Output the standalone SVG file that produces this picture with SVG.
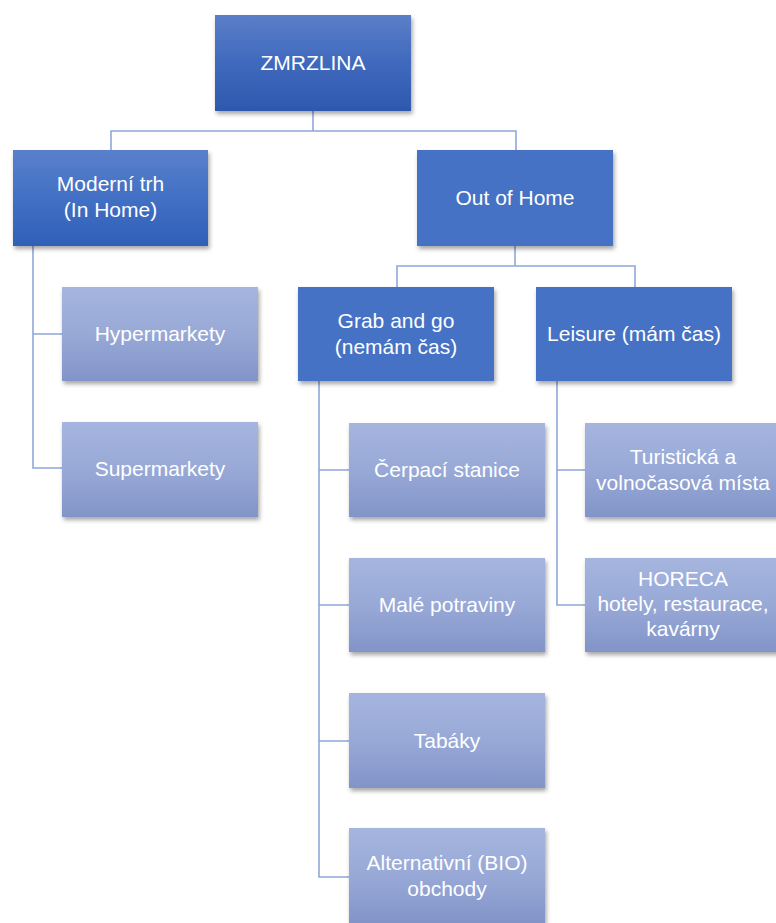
<svg xmlns="http://www.w3.org/2000/svg" width="776" height="923" viewBox="0 0 776 923">
<defs>
<linearGradient id="gDark" x1="0" y1="0" x2="0" y2="1">
<stop offset="0" stop-color="#5b7fc8"/>
<stop offset="0.5" stop-color="#3f69bd"/>
<stop offset="1" stop-color="#2e58ad"/>
</linearGradient>
<linearGradient id="gMid" x1="0" y1="0" x2="0" y2="1">
<stop offset="0" stop-color="#5a80cc"/>
<stop offset="0.5" stop-color="#4270c4"/>
<stop offset="1" stop-color="#3060b8"/>
</linearGradient>
<linearGradient id="gLight" x1="0" y1="0" x2="0" y2="1">
<stop offset="0" stop-color="#a5b5de"/>
<stop offset="0.5" stop-color="#98a9d7"/>
<stop offset="1" stop-color="#8294c8"/>
</linearGradient>
<filter id="sh" x="-10%" y="-10%" width="125%" height="130%">
<feDropShadow dx="1.5" dy="3" stdDeviation="2" flood-color="#000" flood-opacity="0.35"/>
</filter>
</defs>
<style>
.dark{fill:url(#gDark);filter:url(#sh)}
.mid{fill:url(#gMid);filter:url(#sh)}
.flat{fill:#4472c4;filter:url(#sh)}
.light{fill:url(#gLight);filter:url(#sh)}
text{font-family:"Liberation Sans",Arial,sans-serif;font-size:21px;fill:#ffffff;text-anchor:middle}
.con{fill:none;stroke:#8fa7da;stroke-width:1.6}
</style>
<rect width="776" height="923" fill="#ffffff"/>
<g id="connectors">
<path class="con" d="M313,111 V131 M111,150 V131 H516 V150"/>
<path class="con" d="M33,246 V468 H62 M33,334 H62"/>
<path class="con" d="M515,246 V266 M397,287 V266 H635 V287"/>
<path class="con" d="M319,381 V877 H349 M319,470 H349 M319,605 H349 M319,741 H349"/>
<path class="con" d="M557,381 V605 H585 M557,470 H585"/>
</g>
<g id="zmrzlina"><rect class="dark" x="215" y="15" width="196" height="96"/><text x="313" y="70">ZMRZLINA</text></g>
<g id="moderni"><rect class="mid" x="13" y="150" width="195" height="96"/><text x="110.5" y="191">Moderní trh</text><text x="110.5" y="217">(In Home)</text></g>
<g id="outofhome"><rect class="flat" x="417" y="150" width="196" height="96"/><text x="515" y="205">Out of Home</text></g>
<g id="hyper"><rect class="light" x="62" y="287" width="196" height="94"/><text x="160" y="341">Hypermarkety</text></g>
<g id="super"><rect class="light" x="62" y="422" width="196" height="95"/><text x="160" y="476">Supermarkety</text></g>
<g id="grab"><rect class="flat" x="298" y="287" width="196" height="94"/><text x="396" y="328">Grab and go</text><text x="396" y="354">(nemám čas)</text></g>
<g id="leisure"><rect class="flat" x="536" y="287" width="196" height="94"/><text x="634" y="341">Leisure (mám čas)</text></g>
<g id="cerpaci"><rect class="light" x="349" y="423" width="196" height="94"/><text x="447" y="477">Čerpací stanice</text></g>
<g id="male"><rect class="light" x="349" y="558" width="196" height="94"/><text x="447" y="612">Malé potraviny</text></g>
<g id="tabaky"><rect class="light" x="349" y="693" width="196" height="95"/><text x="447" y="748">Tabáky</text></g>
<g id="alternativni"><rect class="light" x="349" y="828" width="196" height="95"/><text x="447" y="870">Alternativní (BIO)</text><text x="447" y="896">obchody</text></g>
<g id="turisticka"><rect class="light" x="585" y="423" width="196" height="94"/><text x="683" y="464">Turistická a</text><text x="683" y="490">volnočasová místa</text></g>
<g id="horeca"><rect class="light" x="585" y="558" width="196" height="94"/><text x="683" y="586">HORECA</text><text x="683" y="611">hotely, restaurace,</text><text x="683" y="636">kavárny</text></g>
</svg>
